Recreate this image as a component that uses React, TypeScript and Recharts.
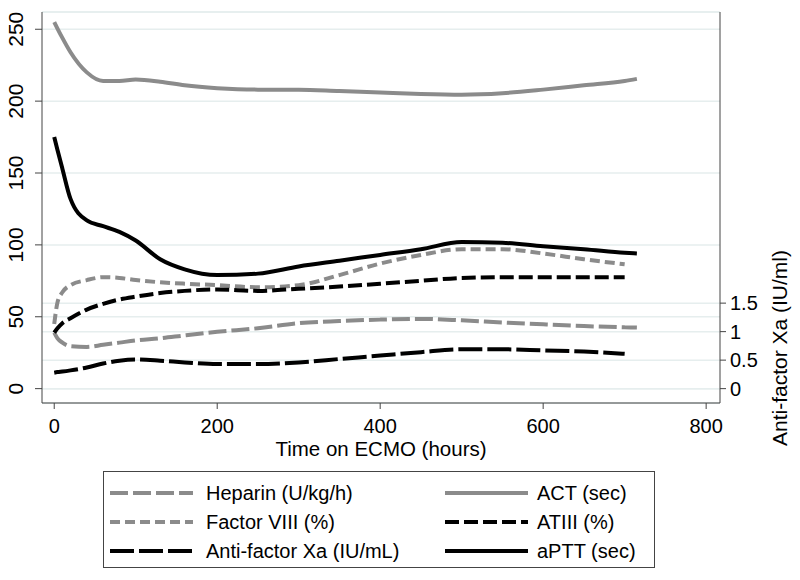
import React from 'react';
import { LineChart, Line, XAxis, YAxis, CartesianGrid, Legend } from 'recharts';

// hours on ECMO, shared by all series
const hours = [0, 4, 10, 20, 40, 60, 80, 100, 130, 160, 200, 250, 300, 350, 400, 450, 500, 550, 600, 650, 700, 715];

const act = [255, 250.5, 244, 234, 220, 214, 214, 215, 213.5, 211, 209, 208, 208, 207, 206, 205, 204.5, 205.5, 208, 211, 214, 215.5];
const aptt = [175, 166, 153, 132, 117, 113, 109, 103, 90, 83, 79, 80, 85, 89, 93, 97, 102, 101.5, 99, 97, 94.5, 94];
const factorVIII = [45, 60, 67, 72, 75.5, 77.5, 77, 75.5, 74, 73, 72, 70.5, 72, 79, 87, 93, 97, 97, 94, 90, 86.5, null];
const atIII = [39, 42, 45.5, 49, 55, 59, 62, 64, 66.5, 68, 69, 68, 69.5, 71, 73, 75, 77, 77.5, 77.5, 77.5, 77.5, null];
const heparin = [39, 35, 32, 29.5, 29, 30.5, 32, 33.5, 35, 37, 39.5, 42, 45.5, 47, 48, 48.5, 47.5, 46, 44.7, 43.5, 42.7, 42.5];
const antiXa = [0.28, 0.29, 0.3, 0.32, 0.37, 0.44, 0.49, 0.51, 0.49, 0.46, 0.43, 0.43, 0.46, 0.52, 0.58, 0.64, 0.69, 0.69, 0.67, 0.65, 0.61, null];

const xTicks = [0, 200, 400, 600, 800];
const leftTicks = [0, 50, 100, 150, 200, 250];
const rightTicks = [0, 0.5, 1, 1.5];

const data = hours.map((h, i) => ({
  hours: h,
  heparin: heparin[i],
  act: act[i],
  factorVIII: factorVIII[i],
  atIII: atIII[i],
  antiXa: antiXa[i],
  aptt: aptt[i],
}));

const GRAY = '#8b8b8b';
const AXIS = '#444';
const GRID = '#e6eeee';
const FONT = '"Liberation Sans", Arial, Helvetica, sans-serif';

// legend order is row by row: left column, right column
const series = [
  { key: 'heparin', name: 'Heparin (U/kg/h)', color: GRAY, dash: '18 5', axis: 'left' },
  { key: 'act', name: 'ACT (sec)', color: GRAY, dash: undefined, axis: 'left' },
  { key: 'factorVIII', name: 'Factor VIII (%)', color: GRAY, dash: '10 5', axis: 'left' },
  { key: 'atIII', name: 'ATIII (%)', color: '#000', dash: '14 5', axis: 'left' },
  { key: 'antiXa', name: 'Anti-factor Xa (IU/mL)', color: '#000', dash: '24 5', axis: 'right' },
  { key: 'aptt', name: 'aPTT (sec)', color: '#000', dash: undefined, axis: 'left' },
];

const LeftTick = (props: any) => {
  const { y, payload } = props;
  return (
    <text x={23} y={y} transform={`rotate(-90 23 ${y})`} textAnchor="middle"
      fontSize={21} fontFamily={FONT} fill="#000">
      {payload.value}
    </text>
  );
};

const XTitle = (props: any) => {
  const vb = props.viewBox || { x: 42, width: 678 };
  const cx = vb.x + vb.width / 2;
  return (
    <text x={cx} y={456} textAnchor="middle" fontSize={20.5} fontFamily={FONT} fill="#000">
      Time on ECMO (hours)
    </text>
  );
};

const RightTitle = () => (
  <text x={787} y={348} transform="rotate(-90 787 348)" textAnchor="middle"
    fontSize={21} fontFamily={FONT} fill="#000">
    Anti-factor Xa (IU/ml)
  </text>
);

const renderLegend = () => (
  <div style={{
    position: 'relative', width: 552, height: 97, boxSizing: 'border-box',
    border: `1px solid ${AXIS}`, background: '#fff', fontFamily: FONT, fontSize: 20,
  }}>
    {series.map((s, i) => {
      const row = Math.floor(i / 2);
      const col = i % 2;
      const top = 21 + row * 29 - 14;
      const lineLeft = col ? 341 : 6;
      const textLeft = col ? 433 : 102;
      return (
        <React.Fragment key={s.key}>
          <svg width={83} height={28} style={{ position: 'absolute', left: lineLeft, top }}>
            <line x1={0} x2={83} y1={14} y2={14} stroke={s.color} strokeWidth={4}
              strokeDasharray={s.dash} />
          </svg>
          <span style={{ position: 'absolute', left: textLeft, top, lineHeight: '28px', color: '#000', whiteSpace: 'nowrap' }}>
            {s.name}
          </span>
        </React.Fragment>
      );
    })}
  </div>
);

export default function App() {
  return (
    <div style={{ position: 'absolute', left: 0, top: 0, background: '#fff' }}>
      <LineChart width={800} height={580} data={data}
        margin={{ top: 12, right: 0, bottom: 120, left: 0 }}>
        <CartesianGrid yAxisId="left" vertical={false} stroke={GRID} strokeWidth={1.5} />
        <CartesianGrid yAxisId="right" vertical={false} stroke={GRID} strokeWidth={1.5} />
        <XAxis dataKey="hours" type="number" domain={[-15, 817]} ticks={xTicks}
          allowDataOverflow height={57} tickSize={6} tickMargin={10}
          stroke={AXIS} tick={{ fontSize: 20, fill: '#000', fontFamily: FONT }}
          label={<XTitle />} />
        <YAxis yAxisId="left" orientation="left" width={42} domain={[-10, 262]}
          ticks={leftTicks} allowDataOverflow tickSize={7} stroke={AXIS} tick={<LeftTick />} />
        <YAxis yAxisId="right" orientation="right" width={80} domain={[-0.2522, 6.608]}
          ticks={rightTicks} allowDataOverflow tickSize={6} tickMargin={4} stroke={AXIS}
          tick={{ fontSize: 20, fill: '#000', fontFamily: FONT }}
          label={<RightTitle />} />
        {series.map((s) => (
          <Line key={s.key} yAxisId={s.axis} dataKey={s.key} name={s.name} type="monotone"
            stroke={s.color} strokeWidth={4} strokeDasharray={s.dash} dot={false}
            activeDot={false} isAnimationActive={false} />
        ))}
        <Legend layout="horizontal" verticalAlign="middle" align="center"
          wrapperStyle={{ left: 103, top: 471, width: 552, height: 97 }}
          content={renderLegend} />
      </LineChart>
    </div>
  );
}
